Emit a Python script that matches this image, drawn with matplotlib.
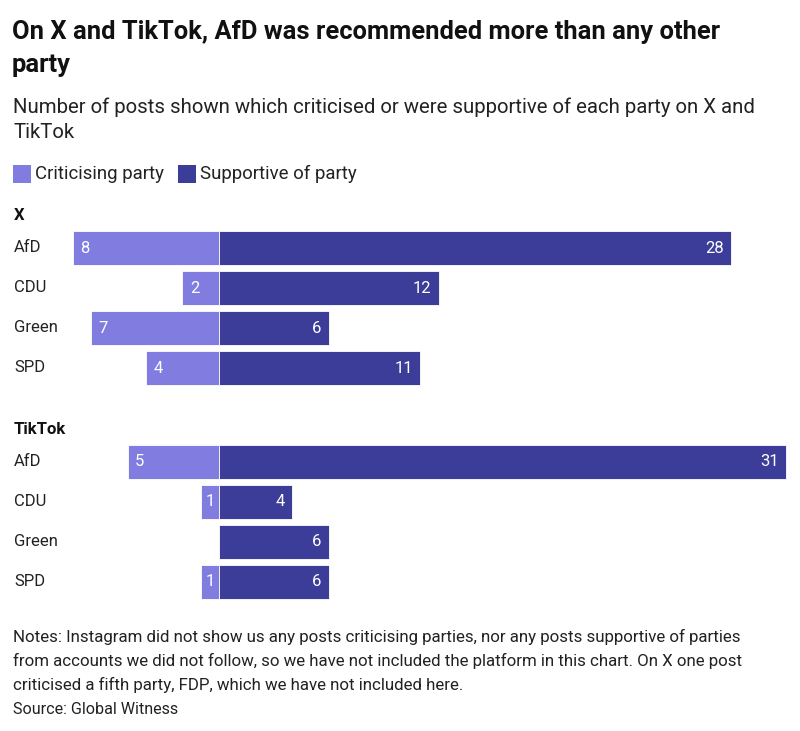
import matplotlib
matplotlib.use("Agg")
import matplotlib.pyplot as plt
from matplotlib.patches import Rectangle

plt.rcParams['font.family'] = ['Roboto', 'DejaVu Sans']

parties = ["AfD", "CDU", "Green", "SPD"]
x_crit = [8, 2, 7, 4]
x_supp = [28, 12, 6, 11]
tt_crit = [5, 1, 0, 1]
tt_supp = [31, 4, 6, 6]

LIGHT = "#807CE0"
DARK = "#3B3D99"

W, H = 800, 731
fig = plt.figure(figsize=(W / 100, H / 100), dpi=100)
fig.patch.set_facecolor("white")

PX_PER_UNIT = 18.3
ZERO_PX = 219


def fy(px):
    return 1 - px / H


def fx(px):
    return px / W


def panel(top_px, crit, supp):
    ax = fig.add_axes([0, fy(top_px + 160), 1, 160 / H])
    ax.set_xlim(-ZERO_PX / PX_PER_UNIT, (W - ZERO_PX) / PX_PER_UNIT)
    ax.set_ylim(len(parties) - 0.5, -0.5)
    ax.axis("off")
    ys = list(range(len(parties)))
    ax.barh(ys, [-c for c in crit], height=0.85, color=LIGHT, edgecolor="white", linewidth=0.6)
    ax.barh(ys, supp, height=0.85, color=DARK, edgecolor="white", linewidth=0.6)
    for y, c, s, name in zip(ys, crit, supp, parties):
        if c > 0:
            if c == 1:
                ax.text(-c / 2, y, str(c), color="white", fontsize=12, ha="center", va="center")
            else:
                ax.annotate(str(c), xy=(-c, y), xytext=(5.5, 0), textcoords="offset points",
                            color="white", fontsize=12, ha="left", va="center")
        ax.annotate(str(s), xy=(s, y), xytext=(-5.5, 0), textcoords="offset points",
                    color="white", fontsize=12, ha="right", va="center")
        fig.text(fx(14), fy(top_px + 20 + 40 * y), name, fontsize=12, ha="left", va="center", color="#222222")
    return ax


panel(228, x_crit, x_supp)
panel(442, tt_crit, tt_supp)

fig.text(fx(14), fy(215), "X", fontsize=12, fontweight="bold", ha="left", va="center", color="#111111")
fig.text(fx(14), fy(430), "TikTok", fontsize=12, fontweight="bold", ha="left", va="center", color="#111111")

fig.text(fx(12), fy(32), "On X and TikTok, AfD was recommended more than any other",
         fontsize=18.4, fontweight="bold", ha="left", va="center", color="#111111")
fig.text(fx(12), fy(65), "party", fontsize=18.4, fontweight="bold", ha="left", va="center", color="#111111")

fig.text(fx(13), fy(107), "Number of posts shown which criticised or were supportive of each party on X and",
         fontsize=14.7, ha="left", va="center", color="#222222")
fig.text(fx(13), fy(132), "TikTok", fontsize=14.7, ha="left", va="center", color="#222222")

# legend
fig.patches.append(Rectangle((fx(13), fy(183)), 18 / W, 18 / H, transform=fig.transFigure,
                             facecolor=LIGHT, edgecolor="none"))
fig.text(fx(35), fy(174), "Criticising party", fontsize=13.4, ha="left", va="center", color="#222222")
fig.patches.append(Rectangle((fx(178), fy(183)), 18 / W, 18 / H, transform=fig.transFigure,
                             facecolor=DARK, edgecolor="none"))
fig.text(fx(200), fy(174), "Supportive of party", fontsize=13.4, ha="left", va="center", color="#222222")

notes = ["Notes: Instagram did not show us any posts criticising parties, nor any posts supportive of parties",
         "from accounts we did not follow, so we have not included the platform in this chart. On X one post",
         "criticised a fifth party, FDP, which we have not included here."]
for i, line in enumerate(notes):
    fig.text(fx(13), fy(637 + 24 * i), line, fontsize=12.2, ha="left", va="center", color="#222222")
fig.text(fx(13), fy(710), "Source: Global Witness", fontsize=11.6, ha="left", va="center", color="#222222")

fig.savefig("out.png", dpi=100, facecolor="white")
